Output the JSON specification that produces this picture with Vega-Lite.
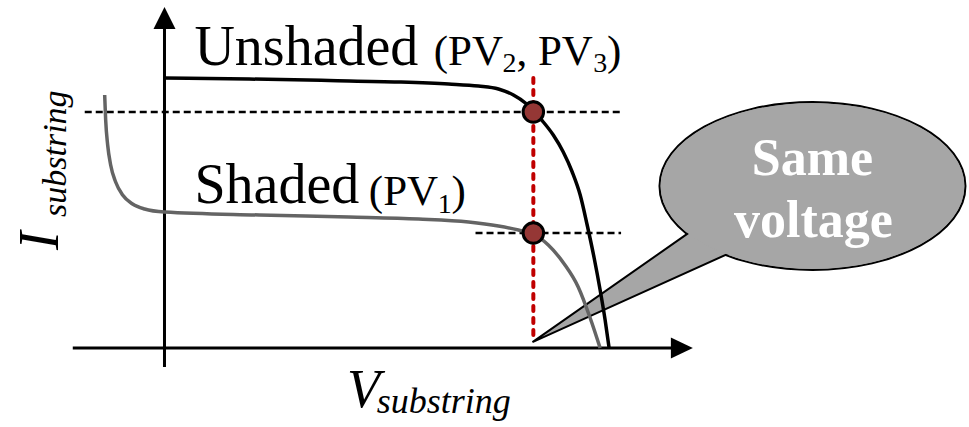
{
  "$schema": "https://vega.github.io/schema/vega-lite/v6.json",
  "width": 969,
  "height": 427,
  "autosize": {"type": "fit", "contains": "padding"},
  "padding": 0,
  "background": "white",
  "config": {"view": {"stroke": null}, "text": {"font": "Liberation Serif, Times New Roman, serif"}},
  "datasets": {
    "unshaded": [
      {"x": 0, "y": 27.0}, {"x": 8.5, "y": 26.9}, {"x": 16.5, "y": 26.75}, {"x": 23.5, "y": 26.6},
      {"x": 28.5, "y": 26.4}, {"x": 31.5, "y": 26.2}, {"x": 33.5, "y": 25.9}, {"x": 35.0, "y": 25.3},
      {"x": 36.2, "y": 24.5}, {"x": 37.0, "y": 23.7}, {"x": 38.0, "y": 22.6}, {"x": 39.0, "y": 21.3},
      {"x": 40.0, "y": 19.6}, {"x": 40.9, "y": 17.6}, {"x": 41.7, "y": 15.3}, {"x": 42.4, "y": 12.3},
      {"x": 43.1, "y": 9.0}, {"x": 43.7, "y": 5.8}, {"x": 44.2, "y": 2.8}, {"x": 44.6, "y": 0}
    ],
    "shaded": [
      {"x": -6.0, "y": 25.3}, {"x": -5.9, "y": 22.8}, {"x": -5.7, "y": 20.3}, {"x": -5.4, "y": 18.3},
      {"x": -4.9, "y": 16.6}, {"x": -4.2, "y": 15.3}, {"x": -3.2, "y": 14.4}, {"x": -2.0, "y": 13.9},
      {"x": 0, "y": 13.6}, {"x": 9.5, "y": 13.3}, {"x": 18.5, "y": 13.1}, {"x": 25.5, "y": 12.9},
      {"x": 30.5, "y": 12.6}, {"x": 33.5, "y": 12.2}, {"x": 35.5, "y": 11.8}, {"x": 37.0, "y": 11.4},
      {"x": 38.5, "y": 10.3}, {"x": 40.1, "y": 8.4}, {"x": 41.5, "y": 6.1}, {"x": 42.7, "y": 3.0},
      {"x": 43.7, "y": 0}
    ],
    "axes": [
      {"x": -9.2, "y": 0, "x2": 51.5, "y2": 0},
      {"x": 0, "y": -1.9, "x2": 0, "y2": 32.1}
    ],
    "arrows": [
      {"x": 53.0, "y": 0, "dir": "right"},
      {"x": 0, "y": 34.1, "dir": "up"}
    ],
    "guides": [
      {"x": -8.0, "y": 23.6, "x2": 45.7, "y2": 23.6},
      {"x": 31.2, "y": 11.5, "x2": 45.8, "y2": 11.5}
    ],
    "marker": [{"x": 37.0, "y": 27.0, "x2": 37.0, "y2": 0.6}],
    "dots": [{"x": 37.0, "y": 23.6}, {"x": 37.0, "y": 11.5}],
    "bubble": [{"x": 65.0, "y": 16.2}],
    "bigLabels": [
      {"x": 3.0, "y": 28.3, "text": "Unshaded"},
      {"x": 3.0, "y": 14.5, "text": "Shaded"}
    ],
    "parenLabels": [
      {"x": 27.0, "y": 28.3, "text": "(PV"},
      {"x": 35.3, "y": 28.3, "text": ",\u00a0PV"},
      {"x": 44.4, "y": 28.3, "text": ")"},
      {"x": 20.5, "y": 14.3, "text": "(PV"},
      {"x": 28.8, "y": 14.3, "text": ")"}
    ],
    "subLabels": [
      {"x": 33.9, "y": 27.6, "text": "2"},
      {"x": 43.0, "y": 27.6, "text": "3"},
      {"x": 27.4, "y": 13.5, "text": "1"}
    ],
    "vMain": [{"x": 18.3, "y": -5.9, "text": "V"}],
    "vSub": [{"x": 21.3, "y": -6.5, "text": "substring"}],
    "iMain": [{"x": -10.7, "y": 9.8, "text": "I"}],
    "iSub": [{"x": -9.9, "y": 13.1, "text": "substring"}],
    "bubbleText": [
      {"x": 65.0, "y": 17.3, "text": "Same"},
      {"x": 65.1, "y": 11.1, "text": "voltage"}
    ]
  },
  "encoding": {
    "x": {"field": "x", "type": "quantitative", "scale": {"domain": [-16.5, 80.4], "nice": false, "zero": false}, "axis": null},
    "y": {"field": "y", "type": "quantitative", "scale": {"domain": [-7.9, 34.8], "nice": false, "zero": false}, "axis": null}
  },
  "layer": [
    {
      "data": {"name": "bubble"},
      "mark": {"type": "point", "shape": "M 1 0 C 1 0.3032 0.5523 0.549 0 0.549 C -0.5523 0.549 -1 0.3032 -1 0 C -1 -0.3032 -0.5523 -0.549 0 -0.549 C 0.5523 -0.549 1 -0.3032 1 0 Z", "size": 93636, "filled": true, "fill": "#a6a6a6", "stroke": "black", "strokeWidth": 2, "opacity": 1}
    },
    {
      "data": {"name": "bubble"},
      "mark": {"type": "point", "shape": "M -0.80 0.30 L -1.830 1.020 L -0.545 0.44 Z", "size": 93636, "filled": true, "fill": "#a6a6a6", "stroke": "black", "strokeWidth": 2, "strokeJoin": "miter", "opacity": 1}
    },
    {
      "data": {"name": "bubble"},
      "mark": {"type": "point", "shape": "M 0.992 0 C 0.992 0.2988 0.5479 0.541 0 0.541 C -0.5479 0.541 -0.992 0.2988 -0.992 0 C -0.992 -0.2988 -0.5479 -0.541 0 -0.541 C 0.5479 -0.541 0.992 -0.2988 0.992 0 Z", "size": 93636, "filled": true, "fill": "#a6a6a6", "strokeWidth": 0, "opacity": 1}
    },
    {
      "data": {"name": "axes"},
      "mark": {"type": "rule", "color": "black", "strokeWidth": 3},
      "encoding": {"x2": {"field": "x2"}, "y2": {"field": "y2"}}
    },
    {
      "data": {"name": "arrows"},
      "mark": {"type": "point", "size": 1936, "filled": true, "color": "black", "opacity": 1},
      "encoding": {
        "shape": {"field": "dir", "type": "nominal", "scale": {"domain": ["right", "up"], "range": ["M 0 0 L -1 -0.48 L -1 0.48 Z", "M 0 0 L -0.5 1 L 0.5 1 Z"]}, "legend": null}
      }
    },
    {
      "data": {"name": "guides"},
      "mark": {"type": "rule", "color": "black", "strokeWidth": 2.4, "strokeDash": [7, 4]},
      "encoding": {"x2": {"field": "x2"}, "y2": {"field": "y2"}}
    },
    {
      "data": {"name": "marker"},
      "mark": {"type": "rule", "color": "#c00000", "strokeWidth": 4, "strokeDash": [5, 7], "strokeCap": "round"},
      "encoding": {"x2": {"field": "x2"}, "y2": {"field": "y2"}}
    },
    {
      "data": {"name": "shaded"},
      "mark": {"type": "line", "color": "#646464", "strokeWidth": 3.5, "interpolate": "monotone"}
    },
    {
      "data": {"name": "unshaded"},
      "mark": {"type": "line", "color": "black", "strokeWidth": 3.5, "interpolate": "monotone"}
    },
    {
      "data": {"name": "dots"},
      "mark": {"type": "point", "shape": "circle", "size": 420, "filled": true, "fill": "#953735", "stroke": "black", "strokeWidth": 3, "opacity": 1}
    },
    {
      "data": {"name": "bigLabels"},
      "mark": {"type": "text", "align": "left", "baseline": "alphabetic", "fontSize": 56, "color": "black"},
      "encoding": {"text": {"field": "text"}}
    },
    {
      "data": {"name": "parenLabels"},
      "mark": {"type": "text", "align": "left", "baseline": "alphabetic", "fontSize": 43, "color": "black"},
      "encoding": {"text": {"field": "text"}}
    },
    {
      "data": {"name": "subLabels"},
      "mark": {"type": "text", "align": "left", "baseline": "alphabetic", "fontSize": 28, "color": "black"},
      "encoding": {"text": {"field": "text"}}
    },
    {
      "data": {"name": "vMain"},
      "mark": {"type": "text", "align": "left", "baseline": "alphabetic", "fontStyle": "italic", "fontSize": 54, "color": "black"},
      "encoding": {"text": {"field": "text"}}
    },
    {
      "data": {"name": "vSub"},
      "mark": {"type": "text", "align": "left", "baseline": "alphabetic", "fontStyle": "italic", "fontSize": 36, "color": "black"},
      "encoding": {"text": {"field": "text"}}
    },
    {
      "data": {"name": "iMain"},
      "mark": {"type": "text", "align": "left", "baseline": "alphabetic", "angle": 270, "fontStyle": "italic", "fontSize": 56, "color": "black"},
      "encoding": {"text": {"field": "text"}}
    },
    {
      "data": {"name": "iSub"},
      "mark": {"type": "text", "align": "left", "baseline": "alphabetic", "angle": 270, "fontStyle": "italic", "fontSize": 34, "color": "black"},
      "encoding": {"text": {"field": "text"}}
    },
    {
      "data": {"name": "bubbleText"},
      "mark": {"type": "text", "align": "center", "baseline": "alphabetic", "fontWeight": "bold", "fontSize": 52, "color": "white"},
      "encoding": {"text": {"field": "text"}}
    }
  ]
}
